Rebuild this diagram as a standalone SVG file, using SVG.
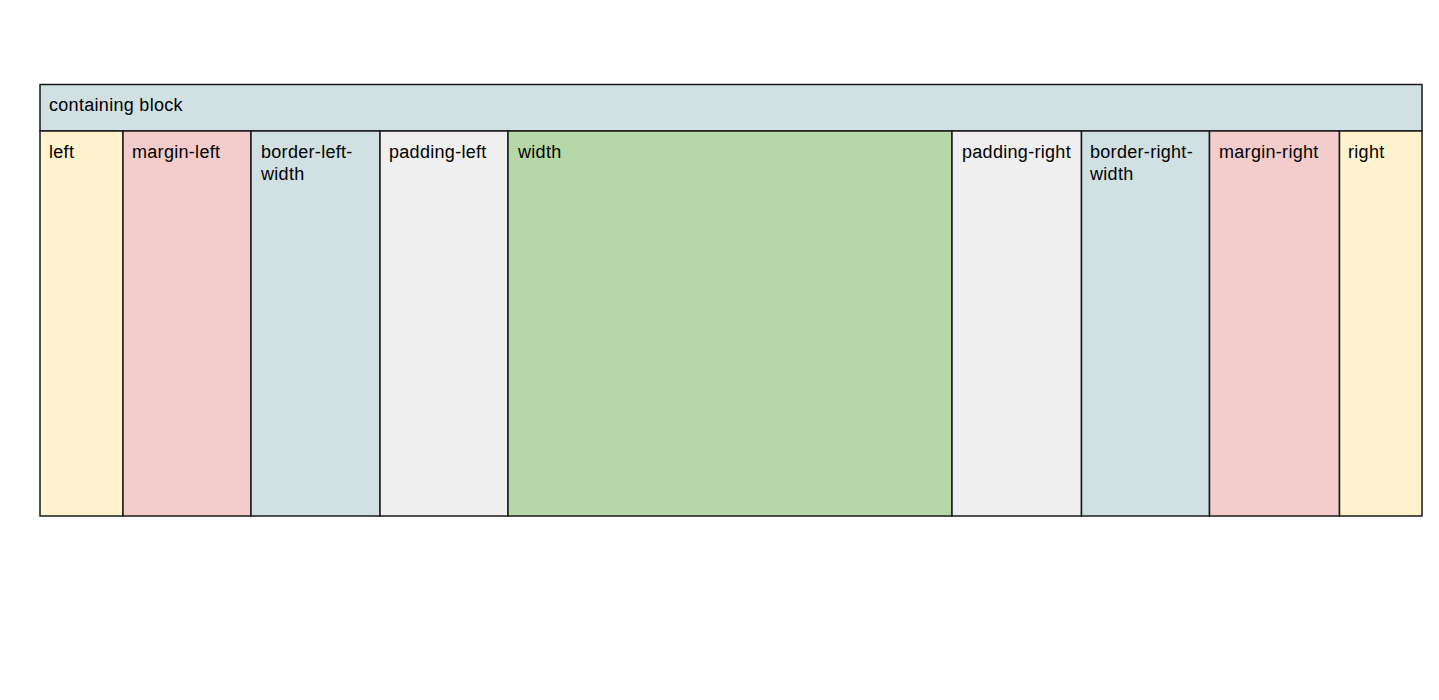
<svg xmlns="http://www.w3.org/2000/svg" width="1439" height="700" viewBox="0 0 1439 700">
<style>
.b{stroke:#1a1a1a;stroke-width:1.5}
.t{font-family:"Liberation Sans",Arial,sans-serif;font-size:18px;letter-spacing:0.3px;fill:#000}
.pos{fill:#fff2cc}.mar{fill:#f4cccc}.bor{fill:#d0e0e3}.pad{fill:#efefef}.wid{fill:#b6d7a8}
</style>
<rect width="1439" height="700" fill="#fff"/>
<g id="containing-block"><rect class="b bor" x="40" y="84.5" width="1382" height="46.5"/><text class="t" x="49" y="111">containing block</text></g>
<g id="left"><rect class="b pos" x="40" y="131" width="83" height="385"/><text class="t" x="49" y="158">left</text></g>
<g id="margin-left"><rect class="b mar" x="123" y="131" width="128" height="385"/><text class="t" x="132" y="158">margin-left</text></g>
<g id="border-left-width"><rect class="b bor" x="251" y="131" width="129" height="385"/><text class="t" x="261" y="158">border-left-</text><text class="t" x="261" y="180">width</text></g>
<g id="padding-left"><rect class="b pad" x="380" y="131" width="128" height="385"/><text class="t" x="389" y="158">padding-left</text></g>
<g id="width"><rect class="b wid" x="508" y="131" width="444" height="385"/><text class="t" x="518" y="158">width</text></g>
<g id="padding-right"><rect class="b pad" x="952" y="131" width="129.5" height="385"/><text class="t" x="962" y="158">padding-right</text></g>
<g id="border-right-width"><rect class="b bor" x="1081.5" y="131" width="128" height="385"/><text class="t" x="1090" y="158">border-right-</text><text class="t" x="1090" y="180">width</text></g>
<g id="margin-right"><rect class="b mar" x="1209.5" y="131" width="130" height="385"/><text class="t" x="1219" y="158">margin-right</text></g>
<g id="right"><rect class="b pos" x="1339.5" y="131" width="82.5" height="385"/><text class="t" x="1348" y="158">right</text></g>
<g id="connectors"></g>
</svg>
